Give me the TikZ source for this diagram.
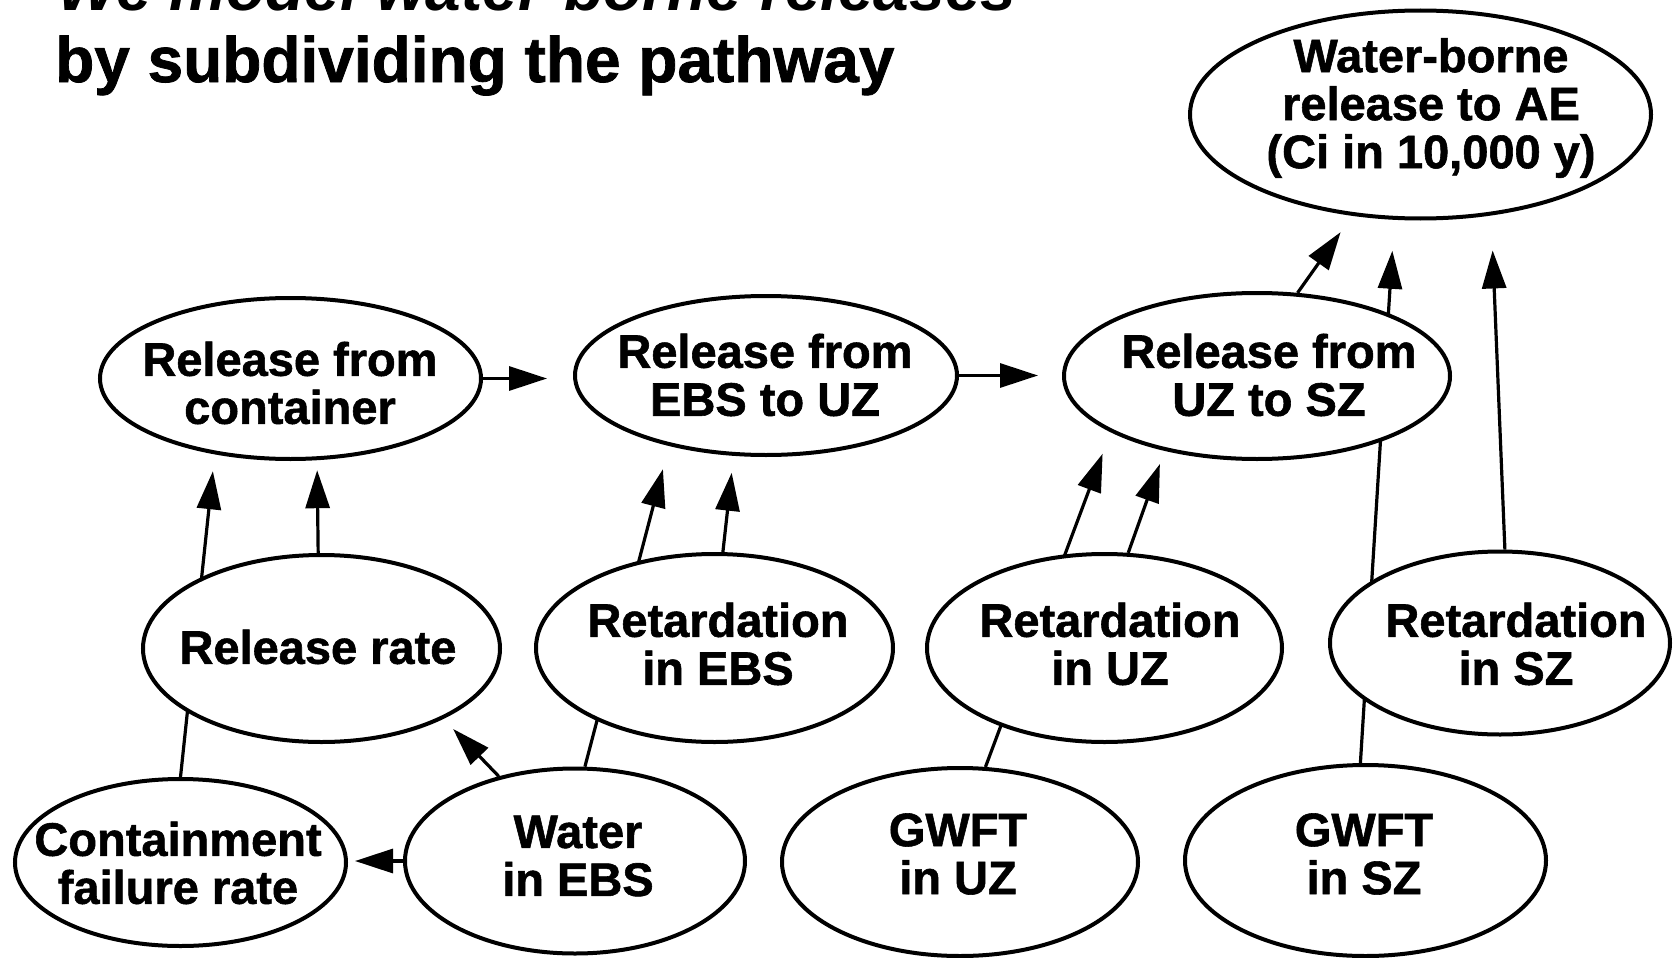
\documentclass[tikz,border=0pt]{standalone}
\usepackage{fontspec}
\setmainfont{Liberation Sans}[BoldFeatures={FakeBold=1.2}]
\usetikzlibrary{arrows.meta,shapes.geometric}
\pgfdeclarelayer{back}
\pgfsetlayers{back,main}
\newcommand{\blobfont}{\fontsize{47}{48}\selectfont\bfseries}
\newcommand{\headfont}{\fontsize{64}{71}\selectfont\bfseries}

\begin{document}
\begin{tikzpicture}[x=1pt,y=-1pt,
  blob/.style={ellipse, draw, line width=4pt, fill=white, inner sep=0pt},
  lbl/.style={font=\blobfont, align=center, inner sep=0pt},
  conn/.style={line width=3.2pt, -{Triangle[length=38pt,width=24pt]}},
  head/.style={anchor=base west, inner sep=0pt, font=\headfont},
]
\useasboundingbox (0,0) rectangle (1674,958);

% heading
\node[head, font=\headfont\itshape] (h1) at (57,11) {We model water-borne releases};
\node[head] (h2) at (55,82) {by subdividing the pathway};

% result
\node[blob, minimum width=461pt, minimum height=208pt] (wb) at (1420.5,114.5) {};
\node[lbl] (wbt) at (1431,108) {Water-borne\\release to AE\\(Ci in 10,000 y)};

% release chain
\node[blob, minimum width=381pt, minimum height=161pt] (c1) at (290.5,378.5) {};
\node[lbl] (c1t) at (290,383) {Release from\\container};
\node[blob, minimum width=382pt, minimum height=159pt] (c2) at (766,375.5) {};
\node[lbl] (c2t) at (765,375) {Release from\\EBS to UZ};
\node[blob, minimum width=386pt, minimum height=166pt] (c3) at (1257,376) {};
\node[lbl] (c3t) at (1269,375) {Release from\\UZ to SZ};

% middle row
\node[blob, minimum width=357pt, minimum height=187pt] (rr) at (321.5,648.5) {};
\node[lbl] (rrt) at (318,647) {Release rate};
\node[blob, minimum width=357pt, minimum height=188pt] (re) at (714.5,648) {};
\node[lbl] (ret) at (718,644) {Retardation\\in EBS};
\node[blob, minimum width=355pt, minimum height=188pt] (ru) at (1104.5,648) {};
\node[lbl] (rut) at (1110,644) {Retardation\\in UZ};
\node[blob, minimum width=340pt, minimum height=183pt] (rs) at (1500,643) {};
\node[lbl] (rst) at (1516,644) {Retardation\\in SZ};

% bottom row
\node[blob, minimum width=331pt, minimum height=167pt] (cf) at (180.5,862.5) {};
\node[lbl] (cft) at (178,863) {Containment\\failure rate};
\node[blob, minimum width=340pt, minimum height=185pt] (we) at (575,861) {};
\node[lbl] (wet) at (578,856) {Water\\in EBS};
\node[blob, minimum width=356pt, minimum height=188pt] (gu) at (960,862) {};
\node[lbl] (gut) at (958,854) {GWFT\\in UZ};
\node[blob, minimum width=361pt, minimum height=191pt] (gs) at (1365.5,860.5) {};
\node[lbl] (gst) at (1364,854) {GWFT\\in SZ};

% influences, drawn underneath the ellipses
\begin{pgfonlayer}{back}
  \fill[white] (0,0) rectangle (1674,958);
  \draw[conn, shorten >=26pt] (c1.east) -- (c1.east -| c2.west);
  \draw[conn, shorten >=24pt] (c2.east) -- (c2.east -| c3.west);
  \draw[conn, shorten >=10pt] (rr.92) -- (c1.288.3);
  \draw[conn, shorten >=17pt] (cf.north) -- (c1.225.6);
  \draw[conn, shorten >=14pt] (we.132) -- (rr.330.3);
  \draw[conn, shorten >=7pt] (we.west) -- (we.west -| cf.east);
  \draw[conn, shorten >=24pt] (we.84) -- (c2.216.5);
  \draw[conn, shorten >=17pt] (re.85) -- (c2.248.1);
  \draw[conn, shorten >=23pt] (gu.75.8) -- (c3.201.2);
  \draw[conn, shorten >=14pt] (ru.76) -- (c3.219.1);
  \draw[conn, shorten >=20pt] (c3.64) -- (wb.236.8);
  \draw[conn, shorten >=31pt] (gs.93) -- (wb.256.3);
  \draw[conn, shorten >=35pt] (rs.87) -- (wb.305.2);
\end{pgfonlayer}
\end{tikzpicture}
\end{document}
